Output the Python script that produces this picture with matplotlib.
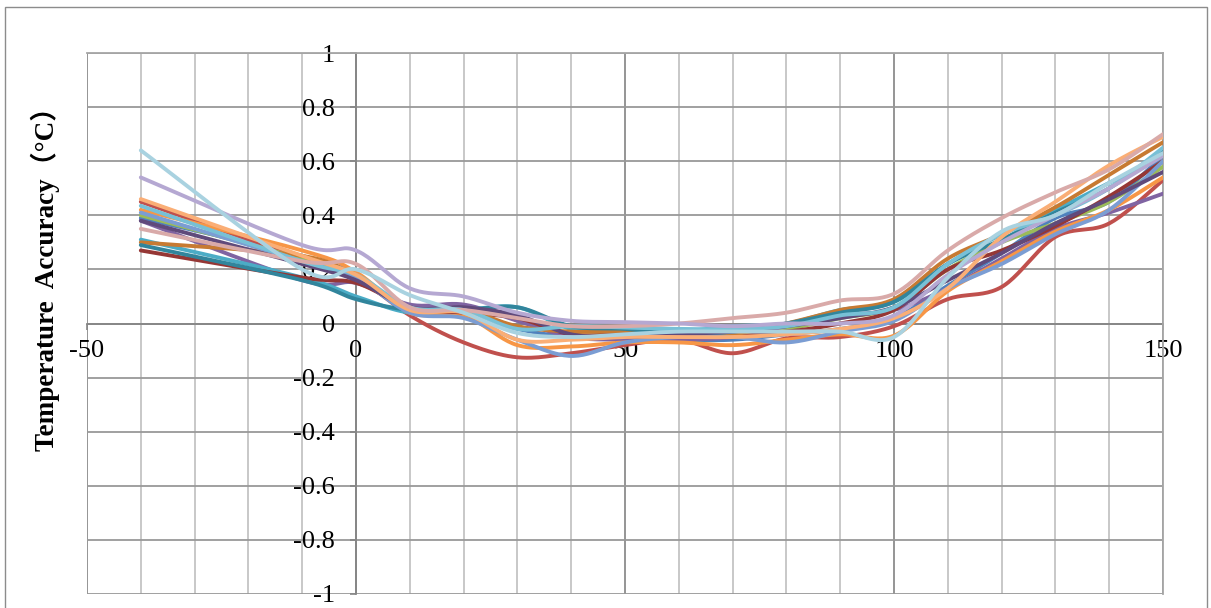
import numpy as np
import matplotlib
matplotlib.use("Agg")
import matplotlib.pyplot as plt
from matplotlib.patches import Rectangle

# ---------- Data ----------
temps = [-40, -10, 0, 10, 20, 30, 40, 50, 60, 70, 80, 90, 100, 110, 120, 130, 140, 150]

s_blue = [0.39, 0.25, 0.18, 0.05, 0.04, -0.02, -0.05, -0.05, -0.06, -0.06, -0.04, -0.02, 0.02, 0.14, 0.26, 0.39, 0.45, 0.62]
s_red = [0.45, 0.24, 0.17, 0.03, -0.07, -0.125, -0.11, -0.08, -0.06, -0.11, -0.055, -0.05, -0.01, 0.09, 0.135, 0.32, 0.37, 0.53]
s_green = [0.40, 0.24, 0.18, 0.05, 0.05, 0.02, -0.04, -0.05, -0.04, -0.04, -0.02, 0.02, 0.06, 0.20, 0.30, 0.37, 0.45, 0.58]
s_purple = [0.38, 0.16, 0.15, 0.07, 0.07, 0.01, -0.05, -0.06, -0.06, -0.05, -0.01, 0.03, 0.05, 0.13, 0.24, 0.35, 0.41, 0.48]
s_aqua = [0.31, 0.17, 0.10, 0.04, 0.05, 0.06, -0.02, -0.03, -0.03, -0.01, 0.00, 0.05, 0.08, 0.22, 0.33, 0.42, 0.52, 0.62]
s_orange = [0.42, 0.27, 0.19, 0.04, 0.03, -0.08, -0.085, -0.07, -0.07, -0.08, -0.06, -0.04, -0.045, 0.12, 0.23, 0.34, 0.42, 0.54]
s_dark_red = [0.27, 0.17, 0.15, 0.06, 0.04, 0.02, -0.04, -0.04, -0.05, -0.04, -0.03, 0.00, 0.05, 0.20, 0.27, 0.36, 0.47, 0.60]
s_dark_orange = [0.30, 0.25, 0.17, 0.05, 0.05, -0.01, -0.03, -0.03, -0.05, -0.04, 0.00, 0.05, 0.09, 0.24, 0.33, 0.43, 0.55, 0.67]
s_dark_teal = [0.29, 0.16, 0.09, 0.05, 0.05, 0.06, -0.01, -0.02, -0.04, -0.03, 0.00, 0.04, 0.08, 0.22, 0.31, 0.41, 0.50, 0.64]
s_mid_blue = [0.41, 0.23, 0.17, 0.04, 0.02, -0.06, -0.12, -0.07, -0.05, -0.05, -0.07, -0.03, 0.01, 0.13, 0.22, 0.33, 0.42, 0.60]
s_dark_purple = [0.38, 0.22, 0.16, 0.06, 0.06, 0.03, -0.04, -0.05, -0.04, -0.03, -0.01, 0.02, 0.06, 0.16, 0.26, 0.37, 0.46, 0.56]
s_light_teal = [0.435, 0.23, 0.18, 0.06, 0.05, -0.02, -0.01, -0.015, -0.02, -0.02, -0.01, 0.03, 0.06, 0.22, 0.33, 0.40, 0.50, 0.65]
s_light_orange = [0.46, 0.25, 0.18, 0.05, 0.04, -0.06, -0.06, -0.05, -0.05, -0.05, -0.04, -0.02, 0.02, 0.13, 0.32, 0.45, 0.585, 0.69]
s_pink = [0.35, 0.23, 0.22, 0.06, 0.05, 0.02, -0.01, -0.01, 0.00, 0.02, 0.04, 0.085, 0.11, 0.27, 0.39, 0.485, 0.57, 0.70]
s_lavender = [0.54, 0.29, 0.27, 0.13, 0.10, 0.04, 0.01, 0.005, 0.00, -0.01, 0.00, 0.00, 0.03, 0.18, 0.30, 0.40, 0.50, 0.62]
s_light_blue = [0.64, 0.20, 0.20, 0.105, 0.04, -0.035, -0.05, -0.04, -0.03, -0.03, -0.03, -0.03, -0.05, 0.17, 0.34, 0.40, 0.52, 0.63]

series = [
    (s_blue, "#4F81BD"),
    (s_red, "#C0504D"),
    (s_green, "#9BBB59"),
    (s_purple, "#8064A2"),
    (s_aqua, "#4BACC6"),
    (s_orange, "#F79646"),
    (s_dark_red, "#953735"),
    (s_dark_orange, "#C77A32"),
    (s_dark_teal, "#31859C"),
    (s_mid_blue, "#7B9DD3"),
    (s_dark_purple, "#604A7B"),
    (s_light_teal, "#78C0D6"),
    (s_light_orange, "#FAAE76"),
    (s_pink, "#D9AAA9"),
    (s_lavender, "#B5A8D2"),
    (s_light_blue, "#A9D2E0"),
]

x_ticks = [-50, 0, 50, 100, 150]
y_ticks = [-1, -0.8, -0.6, -0.4, -0.2, 0, 0.2, 0.4, 0.6, 0.8, 1]
y_tick_labels = ["-1", "-0.8", "-0.6", "-0.4", "-0.2", "0", "0.2", "0.4", "0.6", "0.8", "1"]
y_label = "Temperature  Accuracy（°C）"


# ---------- Utilities ----------
def smooth_curve(xs, ys, n=24):
    """Excel-like smoothed line: cubic Bezier segments with Catmull-Rom handles."""
    pts = np.column_stack([xs, ys]).astype(float)
    out = []
    for i in range(len(pts) - 1):
        p0 = pts[i - 1] if i > 0 else pts[i]
        p1, p2 = pts[i], pts[i + 1]
        p3 = pts[i + 2] if i + 2 < len(pts) else pts[i + 1]
        c1 = p1 + (p2 - p0) / 6.0
        c2 = p2 - (p3 - p1) / 6.0
        t = np.linspace(0, 1, n)[:, None]
        seg = ((1 - t) ** 3) * p1 + 3 * ((1 - t) ** 2) * t * c1 + 3 * (1 - t) * t ** 2 * c2 + t ** 3 * p2
        out.append(seg if i == 0 else seg[1:])
    out = np.vstack(out)
    return out[:, 0], out[:, 1]


def main():
    plt.rcParams["font.family"] = ["Liberation Serif", "Noto Sans CJK SC"]

    fig = plt.figure(figsize=(12.11, 6.08), dpi=100)
    fig.patch.set_facecolor("white")

    # chart-area border
    fig.patches.append(Rectangle((5 / 1211, -0.01), 1202 / 1211, 1 - 7 / 608 + 0.01,
                                 transform=fig.transFigure, fill=False,
                                 edgecolor="#8c8c8c", linewidth=1.0))

    ax = fig.add_axes([87 / 1211, 1 - 594 / 608, 1076 / 1211, 541 / 608])
    ax.set_xlim(-50, 150)
    ax.set_ylim(-1, 1)

    # gridlines
    for xv in np.arange(-50, 151, 10):
        major = xv % 50 == 0
        ax.axvline(xv, color="#8c8c8c" if major else "#c4c4c4",
                   linewidth=1.3, zorder=0)
    for yv in y_ticks:
        ax.axhline(yv, color="#999999", linewidth=1.3, zorder=0)

    for xs_ys, color in series:
        sx, sy = smooth_curve(temps, xs_ys)
        ax.plot(sx, sy, color=color, linewidth=2.8, solid_capstyle="round", zorder=3)

    # axes crossing at zero, Excel style
    ax.spines["left"].set_position(("data", 0))
    ax.spines["bottom"].set_position(("data", 0))
    for side in ("left", "bottom"):
        ax.spines[side].set_color("#868686")
        ax.spines[side].set_linewidth(1.3)
        ax.spines[side].set_zorder(1)
    for side in ("top", "right"):
        ax.spines[side].set_color("#a6a6a6")
        ax.spines[side].set_linewidth(1.3)

    ax.set_xticks(x_ticks)
    ax.set_xticklabels([str(v) for v in x_ticks])
    ax.set_yticks(y_ticks)
    ax.set_yticklabels(y_tick_labels)
    ax.tick_params(axis="both", direction="out", length=4, width=1.2,
                   color="#868686", labelsize=19, labelcolor="black")
    ax.tick_params(axis="x", pad=8)
    ax.tick_params(axis="y", pad=11)

    fig.text(45 / 1211, 1 - 272 / 608, y_label, rotation=90, ha="center", va="center",
             fontsize=19.5, fontweight="bold",
             family=["Liberation Serif", "Noto Sans CJK SC"])

    fig.savefig("out.png", dpi=100, facecolor="white")
    plt.close(fig)


if __name__ == "__main__":
    main()
